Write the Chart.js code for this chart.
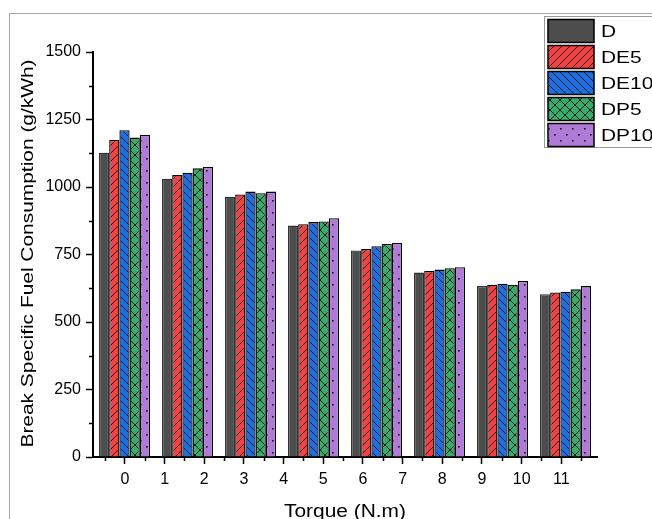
<!DOCTYPE html>
<html>
<head>
<meta charset="utf-8">
<script src="https://cdn.jsdelivr.net/npm/chart.js@4.4.1/dist/chart.umd.min.js"></script>
<style>
  html, body { margin: 0; padding: 0; background: #fff; }
</style>
</head>
<body>
<canvas id="bsfcChart" width="652" height="519"></canvas>
<script>
// ---------------- DATA ----------------
const loadSteps = ["L1", "L2", "L3", "L4", "L5", "L6", "L7", "L8"];
const torqueTicks = [0, 1, 2, 3, 4, 5, 6, 7, 8, 9, 10, 11];
const bsfcTicks = [0, 250, 500, 750, 1000, 1250, 1500];

const fuelNames = ["D", "DE5", "DE10", "DP5", "DP10"];
const bsfcD    = [1127, 1031, 964, 857, 765, 683, 633, 603];
const bsfcDE5  = [1174, 1044, 972, 862, 770, 689, 638, 609];
const bsfcDE10 = [1210, 1053, 983, 870, 781, 694, 642, 612];
const bsfcDP5  = [1183, 1069, 977, 872, 789, 699, 638, 621];
const bsfcDP10 = [1193, 1074, 983, 884, 793, 703, 652, 633];

const xTitle = "Torque (N.m)";
const yTitle = "Break Specific Fuel Consumption (g/kWh)";

const FONT = "'Liberation Sans', Arial, sans-serif";
const STRETCH = 1.23; // titles and legend text are drawn wide

// ---------------- FILL PATTERNS ----------------
function makePattern(bg, kind) {
    const s = kind === "dots" ? 12 : (kind === "cross" ? 10 : 8);
    const c = document.createElement("canvas");
    c.width = s; c.height = s;
    const g = c.getContext("2d");
    g.fillStyle = bg;
    g.fillRect(0, 0, s, s);
    g.strokeStyle = "#111";
    g.fillStyle = "#111";
    g.lineWidth = 0.9;

    const line = (x1, y1, x2, y2) => {
        g.beginPath(); g.moveTo(x1, y1); g.lineTo(x2, y2); g.stroke();
    };
    const fwd = () => { line(0, s, s, 0); line(-1, 1, 1, -1); line(s - 1, s + 1, s + 1, s - 1); };
    const back = () => { line(0, 0, s, s); line(-1, s - 1, 1, s + 1); line(s - 1, -1, s + 1, 1); };

    if (kind === "fwd") fwd();
    if (kind === "back") back();
    if (kind === "cross") { fwd(); back(); }
    if (kind === "dots") {
        g.fillRect(2, 2, 1.6, 1.6);
        g.fillRect(8, 8, 1.6, 1.6);
    }
    return g.createPattern(c, "repeat");
}

const fills = [
    "#4d4d4d",
    makePattern("#f04242", "fwd"),
    makePattern("#1f6fe0", "back"),
    makePattern("#38ad6b", "cross"),
    makePattern("#b07bd6", "dots")
];
const series = [bsfcD, bsfcDE5, bsfcDE10, bsfcDP5, bsfcDP10];

// ---------------- PLUGINS ----------------
const framePlugin = {
    id: "frame",
    beforeDraw(chart) {
        const { ctx } = chart;
        ctx.save();
        ctx.fillStyle = "#fff";
        ctx.fillRect(0, 0, chart.width, chart.height);
        ctx.strokeStyle = "#a6a6a6";
        ctx.lineWidth = 1;
        ctx.strokeRect(9.5, 13.5, chart.width + 20, chart.height + 20);
        ctx.restore();
    }
};

// short ticks between the labelled ones
const minorTicks = {
    id: "minorTicks",
    afterDraw(chart) {
        const { ctx, scales } = chart;
        const x = scales.xTorque, y = scales.y;
        ctx.save();
        ctx.strokeStyle = "#000";
        ctx.lineWidth = 1.5;
        ctx.beginPath();
        for (let v = 125; v < 1500; v += 250) {
            const py = Math.round(y.getPixelForValue(v)) + 0.5;
            ctx.moveTo(x.left - 4, py);
            ctx.lineTo(x.left, py);
        }
        for (let v = -0.5; v < x.max; v += 1) {
            const px = Math.round(x.getPixelForValue(v)) + 0.5;
            ctx.moveTo(px, y.bottom);
            ctx.lineTo(px, y.bottom + 4);
        }
        ctx.stroke();
        ctx.restore();
    }
};

// axis titles, stretched along the reading direction
const axisTitles = {
    id: "axisTitles",
    afterDraw(chart) {
        const { ctx, chartArea } = chart;
        ctx.save();
        ctx.fillStyle = "#000";
        ctx.font = "17px " + FONT;
        ctx.textAlign = "center";
        ctx.textBaseline = "alphabetic";

        ctx.save();
        ctx.translate((chartArea.left + chartArea.right) / 2, 517);
        ctx.scale(STRETCH, 1.1);
        ctx.fillText(xTitle, 0, 0);
        ctx.restore();

        ctx.save();
        ctx.translate(33, (chartArea.top + chartArea.bottom) / 2 - 1);
        ctx.rotate(-Math.PI / 2);
        ctx.scale(STRETCH, 1);
        ctx.fillText(yTitle, 0, 0);
        ctx.restore();

        ctx.restore();
    }
};

const boxLegend = {
    id: "boxLegend",
    afterDraw(chart) {
        const { ctx } = chart;
        const sets = chart.data.datasets;
        ctx.save();
        ctx.fillStyle = "#fff";
        ctx.fillRect(544, 16, 120, 132);
        ctx.strokeStyle = "#9a9a9a";
        ctx.lineWidth = 1;
        ctx.strokeRect(544.5, 16.5, 130, 131);
        ctx.font = "17px " + FONT;
        ctx.textBaseline = "alphabetic";
        sets.forEach((ds, i) => {
            const top = 19.5 + i * 26;
            ctx.fillStyle = ds.backgroundColor;
            ctx.fillRect(548, top, 46, 23);
            ctx.strokeStyle = "#000";
            ctx.lineWidth = 1.5;
            ctx.strokeRect(548, top, 46, 23);
            ctx.fillStyle = "#000";
            ctx.save();
            ctx.translate(601, top + 17);
            ctx.scale(STRETCH, 1);
            ctx.fillText(ds.label, 0, 0);
            ctx.restore();
        });
        ctx.restore();
    }
};

// ---------------- CHART ----------------
new Chart(document.getElementById("bsfcChart"), {
    type: "bar",
    data: {
        labels: loadSteps,
        datasets: fuelNames.map((name, i) => ({
            label: name,
            data: series[i],
            backgroundColor: fills[i],
            borderColor: i === 0 ? "#333" : "#000",
            borderWidth: 1.3,
            borderSkipped: "bottom",
            categoryPercentage: 0.81,
            barPercentage: 1.0
        }))
    },
    options: {
        responsive: false,
        devicePixelRatio: 1,
        animation: false,
        layout: { padding: { left: 0, top: 52, right: 55, bottom: 0 } },
        plugins: {
            legend: { display: false },
            tooltip: { enabled: false }
        },
        scales: {
            x: {
                type: "category",
                display: false,
                offset: true
            },
            xTorque: {
                type: "linear",
                position: "bottom",
                offset: false,
                min: -0.806,
                max: 11.9,
                afterBuildTicks(scale) {
                    scale.ticks = torqueTicks.map(v => ({ value: v }));
                },
                afterFit(scale) { scale.height = 62; },
                ticks: {
                    autoSkip: false,
                    maxRotation: 0,
                    color: "#000",
                    padding: 6,
                    font: { family: FONT, size: 16 },
                    callback: v => String(v)
                },
                grid: {
                    display: true,
                    offset: false,
                    drawOnChartArea: false,
                    drawTicks: true,
                    tickLength: 7,
                    tickWidth: 1.5,
                    tickColor: "#000"
                },
                border: { display: true, color: "#000", width: 2 }
            },
            y: {
                min: 0,
                max: 1500,
                afterBuildTicks(scale) {
                    scale.ticks = bsfcTicks.map(v => ({ value: v }));
                },
                afterFit(scale) { scale.width = 93; },
                ticks: {
                    color: "#000",
                    padding: 5,
                    font: { family: FONT, size: 16 },
                    callback: v => String(v)
                },
                grid: {
                    display: true,
                    drawOnChartArea: false,
                    drawTicks: true,
                    tickLength: 7,
                    tickWidth: 1.5,
                    tickColor: "#000"
                },
                border: { display: true, color: "#000", width: 2 }
            }
        }
    },
    plugins: [framePlugin, minorTicks, axisTitles, boxLegend]
});
</script>
</body>
</html>
